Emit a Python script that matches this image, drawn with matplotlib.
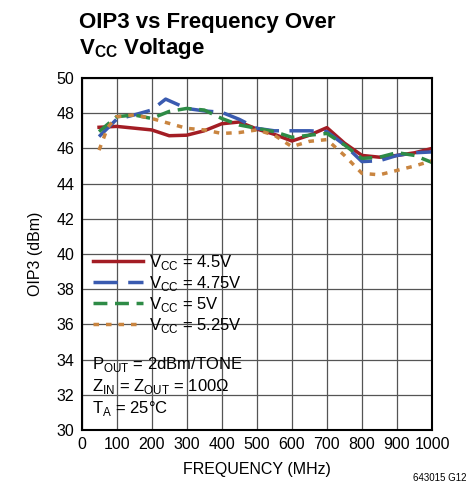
import matplotlib
matplotlib.use('Agg')
import matplotlib.pyplot as plt

plt.rcParams['font.family'] = ['Liberation Sans', 'DejaVu Sans']
plt.rcParams['mathtext.fontset'] = 'custom'
plt.rcParams['mathtext.rm'] = 'Liberation Sans'
plt.rcParams['mathtext.bf'] = 'Liberation Sans:bold'

# Data (MHz, dBm)
freq_red = [50, 100, 150, 200, 250, 300, 350, 400, 450, 500, 550, 600, 650, 700, 750, 800, 850, 900, 950, 1000]
oip3_red = [47.2, 47.25, 47.15, 47.05, 46.72, 46.75, 47.0, 47.4, 47.5, 47.1, 46.8, 46.42, 46.75, 47.18, 46.3, 45.6, 45.5, 45.6, 45.75, 46.0]

freq_blue = [50, 100, 150, 200, 240, 300, 350, 400, 450, 500, 550, 600, 650, 700, 750, 800, 850, 900, 950, 1000]
oip3_blue = [46.67, 47.65, 47.9, 48.18, 48.8, 48.27, 48.13, 48.05, 47.65, 47.14, 47.0, 47.0, 47.0, 46.95, 46.2, 45.25, 45.3, 45.6, 45.75, 45.8]

freq_green = [50, 100, 150, 200, 250, 300, 350, 400, 450, 500, 550, 600, 650, 700, 750, 800, 850, 900, 950, 1000]
oip3_green = [46.95, 47.8, 47.9, 47.7, 48.1, 48.27, 48.18, 47.7, 47.33, 47.14, 46.95, 46.63, 46.75, 46.85, 46.2, 45.43, 45.5, 45.76, 45.6, 45.2]

freq_orange = [50, 75, 100, 150, 200, 250, 300, 350, 400, 450, 500, 550, 600, 650, 700, 750, 800, 850, 900, 950, 1000]
oip3_orange = [45.9, 47.2, 47.8, 47.9, 47.7, 47.42, 47.14, 47.05, 46.85, 46.9, 47.05, 46.75, 46.1, 46.4, 46.5, 45.6, 44.58, 44.5, 44.75, 45.0, 45.3]

labels = [r'V$_{\mathrm{CC}}$ = 4.5V', r'V$_{\mathrm{CC}}$ = 4.75V',
          r'V$_{\mathrm{CC}}$ = 5V', r'V$_{\mathrm{CC}}$ = 5.25V']

fig = plt.figure(figsize=(4.69, 4.93), dpi=100)
ax = fig.add_axes([0.1738, 0.1278, 0.7475, 0.714])

ax.plot(freq_red, oip3_red, color='#a31d24', lw=2.5, label=labels[0])
ax.plot(freq_blue, oip3_blue, color='#3a5bb0', lw=2.5, dashes=(7, 3), label=labels[1])
ax.plot(freq_green, oip3_green, color='#2e8b46', lw=2.5, dashes=(4, 2.2), label=labels[2])
ax.plot(freq_orange, oip3_orange, color='#c98540', lw=2.5, dashes=(1.6, 2.0), label=labels[3])

ax.set_xlim(0, 1000)
ax.set_ylim(30, 50)
ax.set_xticks(range(0, 1001, 100))
ax.set_yticks(range(30, 51, 2))
ax.grid(True, color='#555555', lw=0.9)
ax.tick_params(length=0, labelsize=11.5, pad=5)
for s in ax.spines.values():
    s.set_linewidth(1.5)

ax.set_xlabel('FREQUENCY (MHz)', fontsize=11.5, labelpad=7)
ax.set_ylabel('OIP3 (dBm)', fontsize=11.5, labelpad=10)

leg = ax.legend(loc='upper left', bbox_to_anchor=(0.01, 0.527), frameon=False,
                fontsize=12, handlelength=3.0, handletextpad=0.35,
                labelspacing=0.12, borderaxespad=0.3, borderpad=0.2)

notes = [r'P$_{\mathrm{OUT}}$ = 2dBm/TONE',
         r'Z$_{\mathrm{IN}}$ = Z$_{\mathrm{OUT}}$ = 100Ω',
         r'T$_{\mathrm{A}}$ = 25°C']
for i, note in enumerate(notes):
    ax.text(0.03, 0.185 - i * 0.062, note, transform=ax.transAxes,
            fontsize=12, va='center', ha='left')

fig.text(0.168, 0.955, 'OIP3 vs Frequency Over', fontsize=16, fontweight='bold', va='center')
fig.text(0.168, 0.902, r'V$_{\mathbf{CC}}$ Voltage', fontsize=16, fontweight='bold', va='center')

fig.text(0.995, 0.03, '643015 G12', fontsize=7, ha='right', va='center')

fig.savefig('out.png', dpi=100)
